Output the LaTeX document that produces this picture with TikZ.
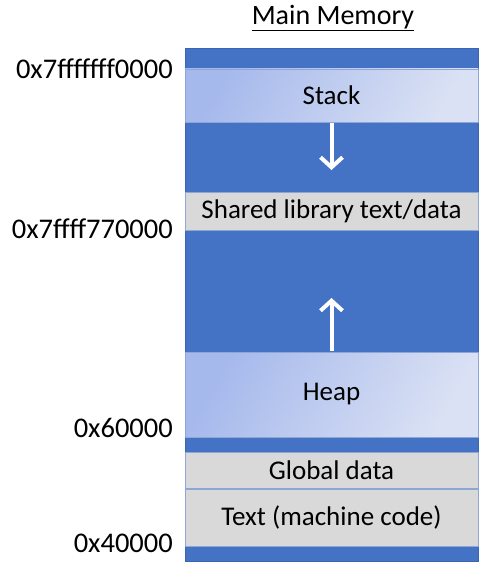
\documentclass[tikz,border=0pt]{standalone}
\usepackage{fontspec}
\setmainfont{Carlito}
\usetikzlibrary{arrows.meta}
\definecolor{memblue}{HTML}{4472C4}
\definecolor{memedge}{HTML}{3A65B0}
\definecolor{seggray}{HTML}{D9D9D9}
\definecolor{segedge}{HTML}{8EA6D6}
\definecolor{growA}{HTML}{A6B9EC}
\definecolor{growB}{HTML}{DAE1F4}
\begin{document}
\begin{tikzpicture}[x=1pt, y=-1pt]
        \tikzstyle{mem_box}   = [shape = rectangle, fill = memblue, draw = memedge, line width = 0.6pt, minimum width = 293pt, inner sep = 0pt]
        \tikzstyle{seg_grow}  = [shape = rectangle, draw = segedge, line width = 0.6pt, left color = growA, right color = growB, shading angle = 60, minimum width = 293pt, inner sep = 0pt, font = \fontsize{27}{30}\selectfont]
        \tikzstyle{seg_fixed} = [shape = rectangle, fill = seggray, draw = segedge, line width = 0.6pt, minimum width = 293pt, inner sep = 0pt, font = \fontsize{27}{30}\selectfont]
        \tikzstyle{addr}      = [anchor = east, inner sep = 0pt, font = \fontsize{28.5}{32}\selectfont]
        \tikzstyle{grow_arrow} = [-{Straight Barb[length=10pt, width=22pt, line width=4pt]}, draw = white, line width = 4pt]

        \useasboundingbox (0, 0) rectangle (492, 580);

        \node at (333, 18) (title) {\fontsize{28}{32}\selectfont\underline{Main Memory}};

        \node[mem_box, minimum height = 513pt] at (331.5, 304.5) (mem) {};

        \node[seg_grow,  minimum height = 53pt] at (331.5,  95.5) (stack)  {Stack};
        \node[seg_fixed, minimum height = 38pt] at (331.5, 211.0) (shlib)  {Shared library text/data};
        \node[seg_grow,  minimum height = 85pt] at (331.5, 394.5) (heap)   {Heap};
        \node[seg_fixed, minimum height = 36pt] at (331.5, 470.0) (global) {Global data};
        \node[seg_fixed, minimum height = 57pt] at (331.5, 517.5) (text)   {Text (machine code)};

        \node[addr] at (173,  69) (a_stack)  {0x7fffffff0000};
        \node[addr] at (173, 229) (a_shlib)  {0x7ffff770000};
        \node[addr] at (173, 428) (a_heap)   {0x60000};
        \node[addr] at (173, 543) (a_text)   {0x40000};

        \coordinate (stack_start) at (331.5, 123);
        \coordinate (stack_end)   at (331.5, 170);
        \coordinate (heap_start)  at (331.5, 351);
        \coordinate (heap_end)    at (331.5, 298);

        \draw[grow_arrow] (stack_start) -- (stack_end);
        \draw[grow_arrow] (heap_start) -- (heap_end);
      \end{tikzpicture}
\end{document}
